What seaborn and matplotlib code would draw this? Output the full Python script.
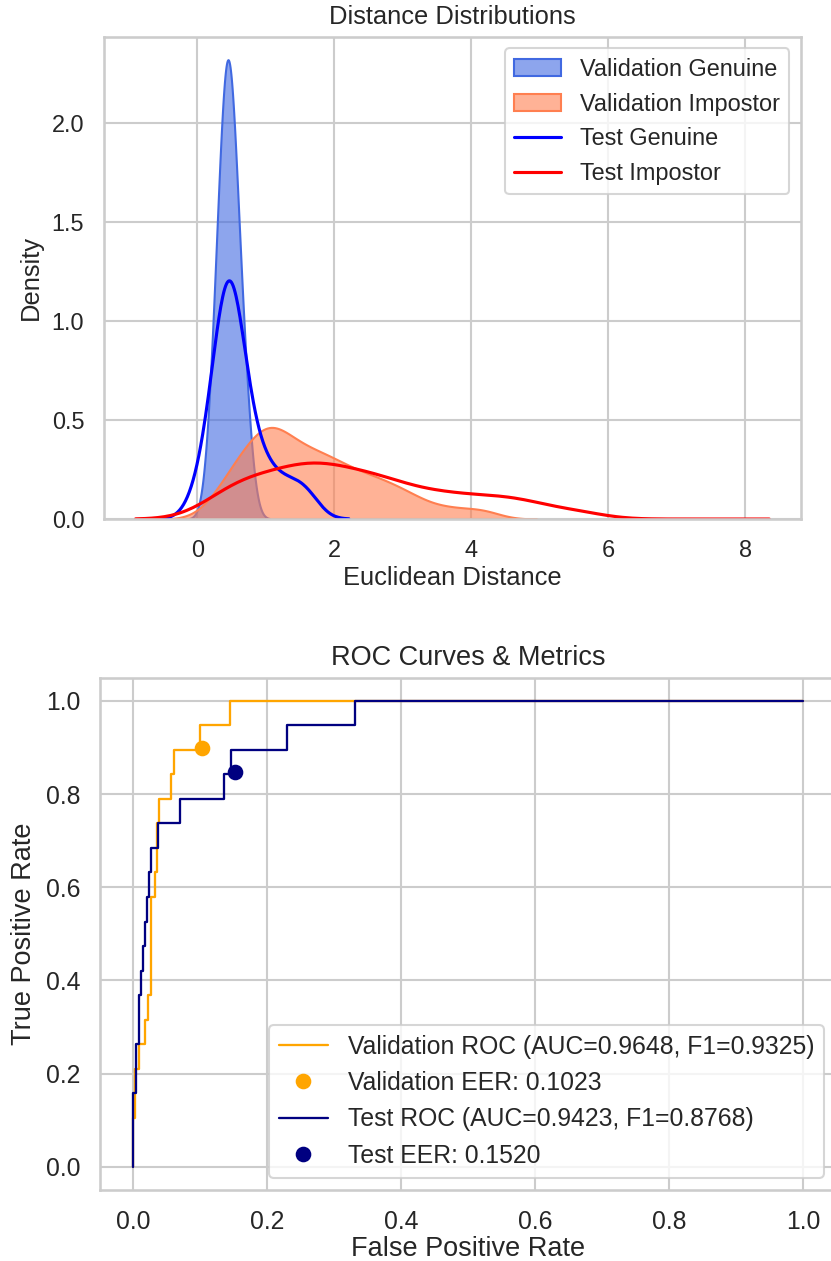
import matplotlib
matplotlib.use("Agg")
import matplotlib.pyplot as plt
import seaborn as sns

# Euclidean distances
val_genuine = [0.22, 0.26, 0.30, 0.34, 0.37, 0.39, 0.41, 0.43, 0.44, 0.45,
               0.46, 0.48, 0.50, 0.52, 0.55, 0.58, 0.62, 0.67, 0.72]
val_impostor = [0.25, 0.45, 0.52, 0.56, 0.66, 0.74, 0.81, 0.87, 0.93, 0.98,
                1.00, 1.03, 1.08, 1.13, 1.18, 1.24, 1.30, 1.36, 1.42, 1.48,
                1.55, 1.62, 1.69, 1.76, 1.84, 1.91, 1.98, 2.06, 2.15, 2.25,
                2.35, 2.45, 2.56, 2.68, 2.80, 2.94, 3.10, 3.32, 3.70, 4.15]
test_genuine = [0.05, 0.22, 0.30, 0.35, 0.39, 0.42, 0.44, 0.46, 0.48, 0.50,
                0.53, 0.56, 0.60, 0.66, 0.80, 0.92, 1.10, 1.35, 1.60]
test_impostor = [0.15, 0.42, 0.50, 0.58, 0.72, 0.84, 0.95, 1.05, 1.15, 1.25,
                 1.35, 1.45, 1.52, 1.60, 1.68, 1.76, 1.84, 1.92, 2.00, 2.10,
                 2.20, 2.30, 2.40, 2.50, 2.60, 2.70, 2.82, 2.94, 3.08, 3.25,
                 3.42, 3.60, 3.78, 3.95, 4.20, 4.40, 4.58, 4.80, 5.10, 5.60]

# ROC corner points (tpr in units of 1/19 genuine pairs)
val_fpr = [0, 0, 0.0025, 0.0025, 0.0085, 0.0085, 0.0174, 0.0174, 0.0224, 0.0224,
           0.027, 0.027, 0.0325, 0.0325, 0.035, 0.035, 0.039, 0.039, 0.056, 0.056,
           0.061, 0.061, 0.099, 0.099, 0.145, 0.145, 1.0]
val_tpr_n = [0, 2, 2, 4, 4, 5, 5, 6, 6, 7, 7, 11, 11, 12, 12, 14, 14, 15, 15, 16,
             16, 17, 17, 18, 18, 19, 19]
test_fpr = [0, 0, 0.004, 0.004, 0.0085, 0.0085, 0.0114, 0.0114, 0.0144, 0.0144,
            0.0175, 0.0175, 0.020, 0.020, 0.023, 0.023, 0.026, 0.026, 0.0375, 0.0375,
            0.069, 0.069, 0.135, 0.135, 0.146, 0.146, 0.229, 0.229, 0.331, 0.331, 1.0]
test_tpr_n = [0, 3, 3, 5, 5, 7, 7, 8, 8, 9, 9, 10, 10, 11, 11, 12, 12, 13, 13, 14,
              14, 15, 15, 16, 16, 17, 17, 18, 18, 19, 19]
val_tpr = [t / 19 for t in val_tpr_n]
test_tpr = [t / 19 for t in test_tpr_n]

val_auc, val_f1, val_eer = 0.9648, 0.9325, 0.1023
test_auc, test_f1, test_eer = 0.9423, 0.8768, 0.1520

sns.set_theme(style="whitegrid")
plt.rcParams["font.family"] = ["Liberation Sans", "DejaVu Sans"]

fig = plt.figure(figsize=(831 / 150, 1261 / 150), dpi=150)
ax1 = fig.add_axes([0.1251, 0.5884, 0.8387, 0.3825])
ax2 = fig.add_axes([0.1201, 0.0563, 0.8869, 0.4064])

# Distance distributions
sns.kdeplot(val_genuine, fill=True, color="royalblue", alpha=0.6, bw_adjust=1.5,
            label="Validation Genuine", ax=ax1)
sns.kdeplot(val_impostor, fill=True, color="coral", alpha=0.6, bw_adjust=0.6,
            label="Validation Impostor", ax=ax1)
sns.kdeplot(test_genuine, color="blue", bw_adjust=0.95, label="Test Genuine", ax=ax1)
sns.kdeplot(test_impostor, color="red", bw_adjust=0.6, cut=12, clip=(-0.9, 8.35),
            label="Test Impostor", ax=ax1)
ax1.set_title("Distance Distributions", fontsize=12.25)
ax1.set_xlabel("Euclidean Distance", fontsize=12.25, labelpad=2)
ax1.set_ylabel("Density", fontsize=12.25)
ax1.tick_params(labelsize=11.25)
ax1.legend(loc="upper right", fontsize=11.25)

# ROC curves (this panel is drawn a bit larger in the reference)
fs = 11.9
sns.lineplot(x=val_fpr, y=val_tpr, color="orange", lw=1.1, sort=False, estimator=None,
             label=f"Validation ROC (AUC={val_auc:.4f}, F1={val_f1:.4f})", ax=ax2)
ax2.plot(val_eer, 1 - val_eer, "o", color="orange", ms=6.5,
         label=f"Validation EER: {val_eer:.4f}")
sns.lineplot(x=test_fpr, y=test_tpr, color="navy", lw=1.1, sort=False, estimator=None,
             label=f"Test ROC (AUC={test_auc:.4f}, F1={test_f1:.4f})", ax=ax2)
ax2.plot(test_eer, 1 - test_eer, "o", color="navy", ms=6.5,
         label=f"Test EER: {test_eer:.4f}")
ax2.set_title("ROC Curves & Metrics", fontsize=13)
ax2.set_xlabel("False Positive Rate", fontsize=13, labelpad=1)
ax2.set_ylabel("True Positive Rate", fontsize=13)
ax2.tick_params(labelsize=fs)
ax2.legend(loc="lower right", fontsize=fs)

fig.savefig("out.png", dpi=150)
plt.close(fig)
